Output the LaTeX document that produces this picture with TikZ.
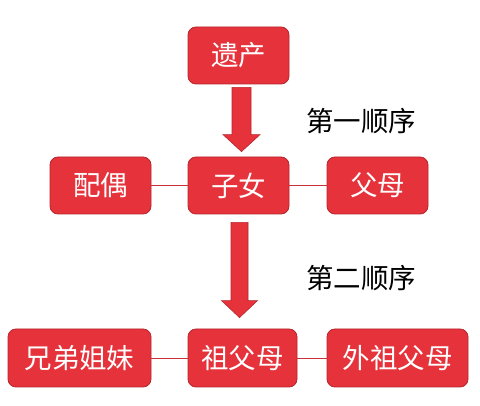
\documentclass[tikz,border=0pt]{standalone}
\usepackage{fontspec}
\setmainfont{Noto Sans CJK SC}
\usetikzlibrary{calc}
\definecolor{boxred}{HTML}{E5323B}
\definecolor{boxedge}{HTML}{B5262D}
\definecolor{linered}{HTML}{CC3038}
\tikzset{
  rbox/.style={draw=boxedge, line width=0.8pt, fill=boxred, rounded corners=8pt,
    text=white, font=\fontsize{27.5}{30}\selectfont, inner sep=0pt, minimum height=57pt},
  link/.style={draw=linered, line width=0.9pt},
  bigarrow/.style={fill=boxred, draw=boxedge, line width=0.6pt},
  lab/.style={font=\fontsize{27.5}{30}\selectfont, text=black, inner sep=0pt}
}
\begin{document}
\begin{tikzpicture}[x=1pt,y=-1pt]
\useasboundingbox (0,0) rectangle (480,406);
\node[rbox, minimum width=101pt] (yc) at (238.5,55.5) {遗产};
\node[rbox, minimum width=101pt] (zn) at (238.5,185.5) {子女};
\node[rbox, minimum width=101pt] (po) at (100.5,185.5) {配偶};
\node[rbox, minimum width=101pt] (fm) at (377.5,185.5) {父母};
\node[rbox, minimum width=143pt, minimum height=58pt] (xd) at (79.5,358) {兄弟姐妹};
\node[rbox, minimum width=109pt, minimum height=58pt] (zf) at (242.5,358) {祖父母};
\node[rbox, minimum width=141pt, minimum height=58pt] (wz) at (397.5,358) {外祖父母};
\node[lab] (l1) at (361,121) {第一顺序};
\node[lab] (l2) at (361,278) {第二顺序};
\draw[link] (po) -- (zn);
\draw[link] (zn) -- (fm);
\draw[link] (xd) -- (zf);
\draw[link] (zf) -- (wz);
% arrow 1
\coordinate (a1t) at ($(yc.south)+(3,3)$);
\coordinate (a1b) at ($(zn.north)+(3,-5)$);
\draw[bigarrow] ($(a1t)+(-9.5,0)$) -- ($(a1t)+(9.5,0)$) -- ($(a1b)+(9.5,-17)$) -- ($(a1b)+(18.5,-17)$)
  -- (a1b) -- ($(a1b)+(-18.5,-17)$) -- ($(a1b)+(-9.5,-17)$) -- cycle;
% arrow 2
\coordinate (a2t) at ($(zn.south)+(1,8)$);
\coordinate (a2b) at ($(zf.north)+(-3,-11)$);
\draw[bigarrow] ($(a2t)+(-8.5,0)$) -- ($(a2t)+(8.5,0)$) -- ($(a2b)+(8.5,-17)$) -- ($(a2b)+(18,-17)$)
  -- (a2b) -- ($(a2b)+(-18,-17)$) -- ($(a2b)+(-8.5,-17)$) -- cycle;
\end{tikzpicture}
\end{document}
